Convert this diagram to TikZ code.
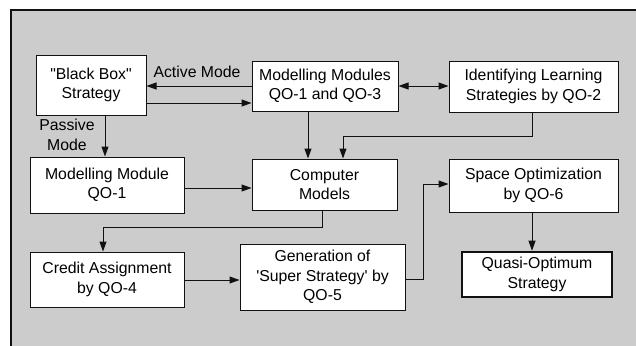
\documentclass[tikz,border=0pt]{standalone}
\usepackage{fontspec}
\setmainfont{Liberation Sans}[Ligatures=TeXOff]
\usetikzlibrary{arrows.meta}
\definecolor{panel}{HTML}{CCCCCC}
\definecolor{ink}{HTML}{111111}
\begin{document}
\begin{tikzpicture}[x=1pt,y=-1pt,
  font=\fontsize{15.8}{19.5}\selectfont,
  box/.style={draw=ink,line width=1pt,fill=white,align=center,inner sep=0pt},
  goal/.style={box,line width=2.6pt},
  flow/.style={draw=ink,line width=1pt,-{Triangle[length=10pt,width=7pt]}},
  both/.style={flow,{Triangle[length=10pt,width=7pt]}-{Triangle[length=10pt,width=7pt]}},
  lbl/.style={align=center,inner sep=0pt}]
\useasboundingbox (0,0) rectangle (636,345);
% grey panel with its heavy frame
\draw[draw=ink,line width=2pt,fill=panel] (11,10) rectangle (650,360);

% boxes
\node[box,minimum width=110pt,minimum height=60pt] (bb) at (91,85) {"Black Box"\\Strategy};
\node[box,minimum width=146pt,minimum height=50pt] (mm) at (325,86) {Modelling Modules\\QO-1 and QO-3};
\node[box,minimum width=169pt,minimum height=51pt] (il) at (533.5,86.5) {Identifying Learning\\Strategies by QO-2};
\node[box,minimum width=154pt,minimum height=56pt] (m1) at (107,185) {Modelling Module\\QO-1};
\node[box,minimum width=145pt,minimum height=51pt] (cm) at (324.5,184.5) {Computer\\Models};
\node[box,minimum width=169pt,minimum height=53pt] (so) at (533.5,185.5) {Space Optimization\\by QO-6};
\node[box,minimum width=154pt,minimum height=55pt] (ca) at (107,279.5) {Credit Assignment\\by QO-4};
\node[box,minimum width=165pt,minimum height=66pt] (gs) at (322.5,277) {Generation of\\'Super Strategy' by\\QO-5};
\node[goal,minimum width=150pt,minimum height=45pt] (qo) at (537,274.5) {Quasi-Optimum\\Strategy};

% bend points
\coordinate (ilturn) at (532,136);
\coordinate (cmturn) at (343,136);
\coordinate (cmdown) at (322,227);
\coordinate (caturn) at (103,227);
\coordinate (gsout) at (423,279);
\coordinate (soin) at (423,184);

% labels
\node[lbl] (active) at (197,72) {Active Mode};
\node[lbl] (passive) at (67,135) {Passive\\Mode};

% connectors
\draw[flow] (mm.west |- 0,86) -- (bb.east |- 0,86);
\draw[flow] (bb.east |- 0,103) -- (mm.west |- 0,103);
\draw[flow] (bb.south -| 105,0) -- (m1.north -| 105,0);
\draw[both] (mm.east |- 0,86) -- (il.west |- 0,86);
\draw[flow] (mm.south -| 308,0) -- (cm.north -| 308,0);
\draw[flow] (il.south -| ilturn) -- (ilturn) -- (cmturn) -- (cm.north -| cmturn);
\draw[flow] (m1.east |- 0,188) -- (cm.west |- 0,188);
\draw[flow] (cm.south -| cmdown) -- (cmdown) -- (caturn) -- (ca.north -| caturn);
\draw[flow] (ca.east |- 0,280) -- (gs.west |- 0,280);
\draw[flow] (gs.east |- gsout) -- (gsout) -- (soin) -- (so.west |- soin);
\draw[flow] (so.south -| 532,0) -- (qo.north -| 532,0);
\end{tikzpicture}
\end{document}
